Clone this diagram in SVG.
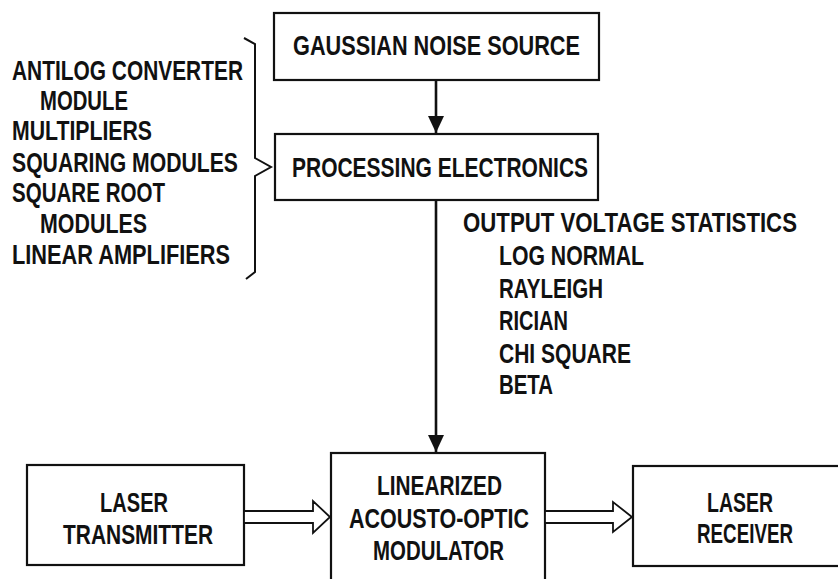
<svg xmlns="http://www.w3.org/2000/svg" width="838" height="579" viewBox="0 0 838 579">
<style>
.box{fill:#fff;stroke:#111;stroke-width:2.2}
.t{font-family:"Liberation Sans",Arial,sans-serif;font-weight:bold;font-size:28.5px;fill:#111}
.line{fill:none;stroke:#111;stroke-width:2.6}
.hollow{fill:#fff;stroke:#111;stroke-width:1.8;stroke-linejoin:miter}
.brace{fill:none;stroke:#111;stroke-width:2}
</style>
<defs>
<marker id="ah" markerUnits="userSpaceOnUse" markerWidth="18" markerHeight="18" viewBox="0 0 18 18" refX="17" refY="9" orient="auto">
<path d="M0,1 L17,9 L0,17 Z" fill="#111"/>
</marker>
</defs>
<rect width="838" height="579" fill="#fff"/>

<g id="gaussian">
<rect class="box" x="274" y="13" width="325" height="67"/>
<text class="t" transform="matrix(0.75 0 0 1 293 55)" textLength="382.7" lengthAdjust="spacingAndGlyphs">GAUSSIAN NOISE SOURCE</text>
</g>

<g id="processing">
<rect class="box" x="275" y="134" width="323" height="66"/>
<text class="t" transform="matrix(0.75 0 0 1 292 177)" textLength="394.7" lengthAdjust="spacingAndGlyphs">PROCESSING ELECTRONICS</text>
</g>

<g id="modulator">
<rect class="box" x="331" y="453" width="214" height="150"/>
<text class="t" transform="matrix(0.75 0 0 1 377 495)" textLength="166.7" lengthAdjust="spacingAndGlyphs">LINEARIZED</text>
<text class="t" transform="matrix(0.75 0 0 1 349 528)" textLength="240" lengthAdjust="spacingAndGlyphs">ACOUSTO-OPTIC</text>
<text class="t" transform="matrix(0.75 0 0 1 373 560)" textLength="174.7" lengthAdjust="spacingAndGlyphs">MODULATOR</text>
</g>

<g id="transmitter">
<rect class="box" x="27" y="465" width="217" height="100"/>
<text class="t" transform="matrix(0.75 0 0 1 100 512)" textLength="90.7" lengthAdjust="spacingAndGlyphs">LASER</text>
<text class="t" transform="matrix(0.75 0 0 1 63 544)" textLength="200" lengthAdjust="spacingAndGlyphs">TRANSMITTER</text>
</g>

<g id="receiver">
<rect class="box" x="633" y="466" width="220" height="100"/>
<text class="t" transform="matrix(0.75 0 0 1 707 512)" textLength="88" lengthAdjust="spacingAndGlyphs">LASER</text>
<text class="t" transform="matrix(0.75 0 0 1 697 543)" textLength="128" lengthAdjust="spacingAndGlyphs">RECEIVER</text>
</g>

<g id="component-list">
<text class="t" transform="matrix(0.75 0 0 1 12 80)" textLength="308" lengthAdjust="spacingAndGlyphs">ANTILOG CONVERTER</text>
<text class="t" transform="matrix(0.75 0 0 1 40 110)" textLength="117.3" lengthAdjust="spacingAndGlyphs">MODULE</text>
<text class="t" transform="matrix(0.75 0 0 1 12 140)" textLength="186.7" lengthAdjust="spacingAndGlyphs">MULTIPLIERS</text>
<text class="t" transform="matrix(0.75 0 0 1 12 172)" textLength="301.3" lengthAdjust="spacingAndGlyphs">SQUARING MODULES</text>
<text class="t" transform="matrix(0.75 0 0 1 12 202)" textLength="204" lengthAdjust="spacingAndGlyphs">SQUARE ROOT</text>
<text class="t" transform="matrix(0.75 0 0 1 40 233)" textLength="142.7" lengthAdjust="spacingAndGlyphs">MODULES</text>
<text class="t" transform="matrix(0.75 0 0 1 12 264)" textLength="290.7" lengthAdjust="spacingAndGlyphs">LINEAR AMPLIFIERS</text>
<path class="brace" d="M244,38 L255,44 L255,158 L271,167 L255,176 L255,272 L246,279"/>
</g>

<g id="statistics">
<text class="t" transform="matrix(0.75 0 0 1 463 232)" textLength="445.3" lengthAdjust="spacingAndGlyphs">OUTPUT VOLTAGE STATISTICS</text>
<text class="t" transform="matrix(0.75 0 0 1 499 265)" textLength="193.3" lengthAdjust="spacingAndGlyphs">LOG NORMAL</text>
<text class="t" transform="matrix(0.75 0 0 1 499 298)" textLength="138.7" lengthAdjust="spacingAndGlyphs">RAYLEIGH</text>
<text class="t" transform="matrix(0.75 0 0 1 499 330)" textLength="92" lengthAdjust="spacingAndGlyphs">RICIAN</text>
<text class="t" transform="matrix(0.75 0 0 1 499 363)" textLength="176" lengthAdjust="spacingAndGlyphs">CHI SQUARE</text>
<text class="t" transform="matrix(0.75 0 0 1 499 394)" textLength="72" lengthAdjust="spacingAndGlyphs">BETA</text>
</g>

<g id="connectors">
<line class="line" x1="436" y1="80" x2="436" y2="133" marker-end="url(#ah)"/>
<line class="line" x1="436" y1="200" x2="436" y2="452" marker-end="url(#ah)"/>
<polygon class="hollow" points="244,511 313,511 313,501 330,517 313,533 313,523 244,523"/>
<polygon class="hollow" points="545,511 613,511 613,502 632,517 613,532 613,523 545,523"/>
</g>
</svg>
